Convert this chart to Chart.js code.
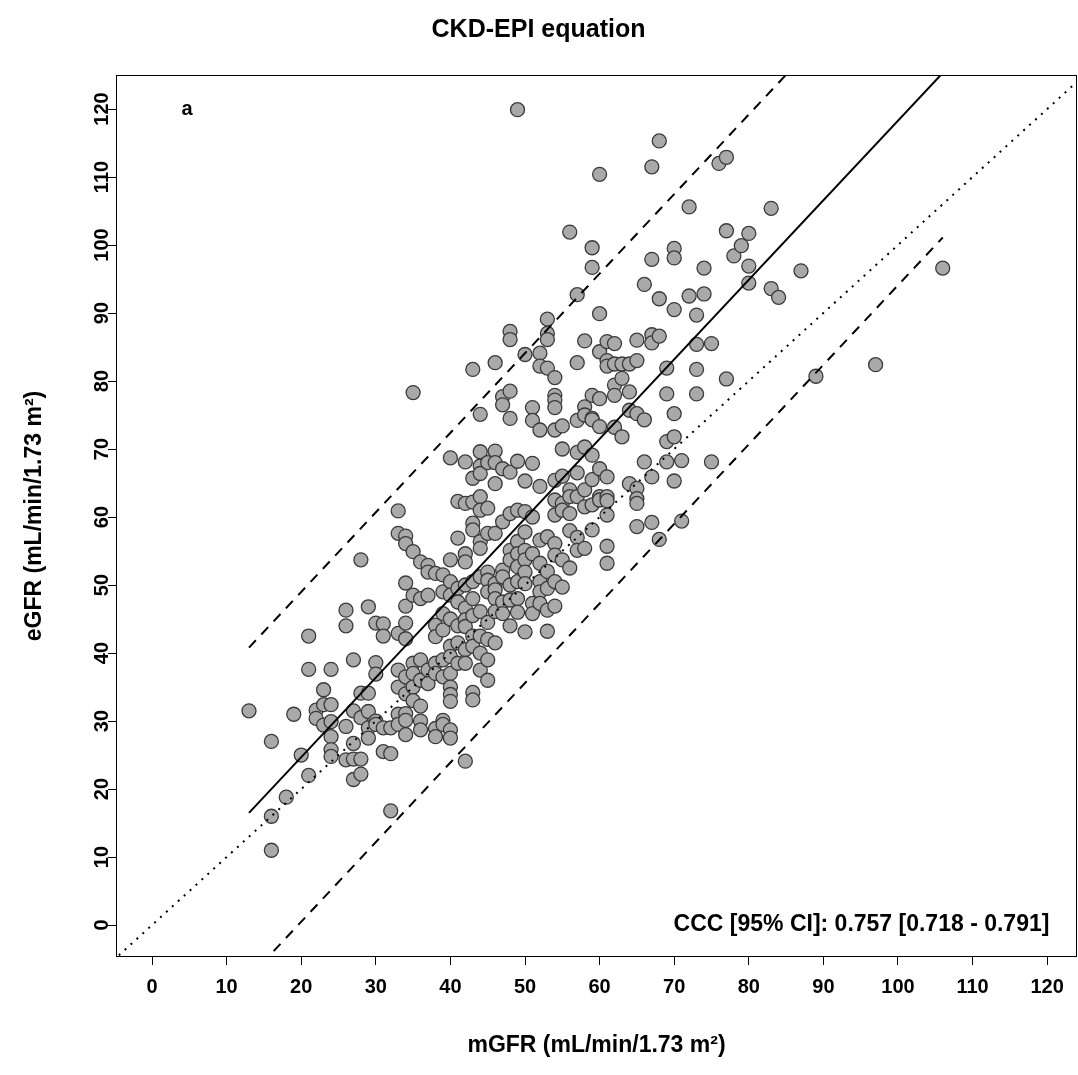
<!DOCTYPE html>
<html><head><meta charset="utf-8">
<script src="https://cdn.jsdelivr.net/npm/chart.js@4/dist/chart.umd.min.js"></script>
<style>html,body{margin:0;padding:0;background:#fff;}canvas{display:block;}</style>
</head><body>
<canvas id="c" width="1078" height="1075"></canvas>
<script>
// ---- data ----
const chartTitle = 'CKD-EPI equation';
const xTitle = 'mGFR (mL/min/1.73 m²)';
const yTitle = 'eGFR (mL/min/1.73 m²)';
const xTicks = [0,10,20,30,40,50,60,70,80,90,100,110,120];
const yTicks = [0,10,20,30,40,50,60,70,80,90,100,110,120];
const panelLabel = 'a';
const panelLabelPos = [4.7, 120];
const cccText = 'CCC [95% CI]: 0.757 [0.718 - 0.791]';
const cccPos = [120.3, 0];

const mGFRLevels = [13,16,18,19,20,21,22,23,24,26,27,28,29,30,31,32,33,34,35,36,37,38,39,40,41,42,43,44,45,46,47,48,49,50,51,52,53,54,55,56,57,58,59,60,61,62,63,64,65,66,67,68,69,70,71,72,73,74,75,76,77,78,79,80,83,84,87,89,97,106];
const eGFRByLevel = [
[31.5],
[27,16,11],
[18.8],
[31],
[25],
[42.5,37.6,22],
[31.6,30.4],
[34.6,32.4,29.4],
[37.6,32.4,29.9,27.7,25.8,24.8],
[46.3,44,29.2,24.3],
[39,31.5,26.7,24.4,21.4],
[53.7,34.1,30.5,24.4,22.2],
[46.8,34.1,31.4,29,27.5],
[44.4,38.6,36.9,30,29.5],
[44.3,42.5,29,25.5],
[29,25.2,16.8],
[60.9,57.6,42.9,37.5,35,31,29.5],
[57.2,56.1,50.3,46.9,44.4,42.1,36.5,34,31.1,30.1,28],
[78.3,54.9,48.5,38.5,37,35,33],
[53.4,48,39,36,32.2,30,28.7],
[52.9,51.9,48.5,37.5,35.5],
[51.7,44.1,42.4,38.5,37,28.9,27.7],
[51.5,49,45.8,43.4,39,36.5,30.1,29.5],
[68.7,53.7,50.5,48.5,45,41,39.5,37,35,33.9,32.9,28.7,27.5],
[62.3,56.9,49.5,47.5,44,41.5,38.5],
[68.1,62,54.6,53.4,50,46.6,44.9,43.9,40.5,38.5,24.1],
[81.7,65.7,62.2,59.1,58.1,50.5,48,45.5,42.5,41,34.2,33.1],
[75.1,69.6,67.5,66.4,63,61,56.4,55.4,51.2,46.1,42.5,40,37.5],
[68,61.3,57.6,51.9,50.7,49,44.5,42,39,36],
[82.7,69.7,68,64.9,57.6,50.2,49.3,48,46.1,41.5],
[77.7,76.5,67.1,59.3,52.2,51.2,47.5,45.8],
[87.3,86.1,78.5,74.5,66.6,60.5,55.1,53.7,50,47.8,44],
[119.9,68.2,61,56.4,54.6,52.7,50.5,48,46],
[83.9,65.3,60.8,57.8,55.1,53.7,51.9,50.2,43.1],
[76.1,74.2,67.9,60,54.6,47.3,45.8],
[84.1,82.2,72.8,64.5,56.6,53.2,50.5,49,47.3],
[89.1,87,86.1,81.9,57.1,52,49.5,46.3,43.2],
[80.5,77.9,77.2,76.1,72.8,65.4,62.5,60.3,56.1,54.4,50.5,46.9],
[73.4,70,66,62,61,53.7,49.7],
[101.9,64,63,60.5,58,52.5],
[92.7,82.7,74.2,69.5,66.5,63,57,55.1],
[85.9,76.2,75,70.3,64,61.5,55.4],
[99.6,96.7,77.9,74.5,74.3,69.1,65.5,61.8,58.1],
[110.4,89.9,84.3,77.4,73.3,67.1,63,62.5],
[85.8,83,82.2,65.9,63,62.4,60.3,55.7,53.2],
[85.5,82.5,79.4,77.9,73.2],
[82.5,80.4,71.8],
[82.5,78.4,75.7,64.9],
[86,83,75.2,64.2,62.7,62,58.6],
[94.2,74.3,68.1],
[111.5,97.9,86.8,85.6,65.9,59.2],
[115.3,92.1,86.6,56.7],
[81.9,78.1,71.1,68.1],
[99.5,98.1,90.5,75.2,71.8,65.3],
[68.3,59.4],
[105.6,92.5],
[89.7,85.4,81.7,78.1],
[96.6,92.8],
[85.5,68.1],
[112],
[112.9,102.1,80.3],
[98.4],
[99.9],
[101.7,96.9,94.4],
[105.4,93.6],
[92.3],
[96.2],
[80.7],
[82.4],
[96.6]
];

// line end points
const fitX = [13, 106];
const fitY = [16.5, 125.3];
const upperY = [40.8, 149.6];
const lowerY = [-7.7, 101.1];
const identityXY = [-10, 130];

// ---- build datasets ----
const points = [];
mGFRLevels.forEach((m, i) => eGFRByLevel[i].forEach(e => points.push({x: m, y: e})));
const toPts = (xs, ys) => xs.map((v, i) => ({x: v, y: ys[i]}));

const FONT = '"Liberation Sans", Arial, Helvetica, sans-serif';

const decor = {
  id: 'decor',
  afterDraw(chart) {
    const {ctx, chartArea: a, scales: {x, y}} = chart;
    ctx.save();
    ctx.strokeStyle = '#000';
    ctx.lineWidth = 1;
    ctx.strokeRect(Math.round(a.left) + 0.5, Math.round(a.top) + 0.5,
                   Math.round(a.right - a.left) - 1, Math.round(a.bottom - a.top) - 1);
    ctx.fillStyle = '#000';
    ctx.textBaseline = 'middle';
    ctx.textAlign = 'center';
    ctx.font = 'bold 20px ' + FONT;
    ctx.fillText(panelLabel, x.getPixelForValue(panelLabelPos[0]), y.getPixelForValue(panelLabelPos[1]));
    ctx.textAlign = 'right';
    ctx.font = 'bold 23px ' + FONT;
    ctx.fillText(cccText, x.getPixelForValue(cccPos[0]), y.getPixelForValue(cccPos[1]));
    ctx.restore();
  }
};

new Chart(document.getElementById('c'), {
  type: 'scatter',
  data: {
    datasets: [
      {data: toPts(identityXY, identityXY), showLine: true, pointRadius: 0, borderColor: '#000', borderWidth: 2, borderDash: [2, 6], order: 0},
      {data: toPts(fitX, fitY), showLine: true, pointRadius: 0, borderColor: '#000', borderWidth: 2, order: 0},
      {data: toPts(fitX, upperY), showLine: true, pointRadius: 0, borderColor: '#000', borderWidth: 2, borderDash: [10, 8], order: 0},
      {data: toPts(fitX, lowerY), showLine: true, pointRadius: 0, borderColor: '#000', borderWidth: 2, borderDash: [10, 8], order: 0},
      {data: points, pointRadius: 7, pointBackgroundColor: '#a9a9a9', pointBorderColor: '#3a3a3a', pointBorderWidth: 1.3, order: 1}
    ]
  },
  options: {
    responsive: false,
    animation: false,
    devicePixelRatio: 1,
    layout: {autoPadding: false, padding: {left: 0, right: 1, top: 0, bottom: 0}},
    plugins: {
      legend: {display: false},
      tooltip: {enabled: false},
      title: {display: true, text: chartTitle, color: '#000',
              font: {family: FONT, size: 25, weight: 'bold', lineHeight: 1.2},
              padding: {top: 15, bottom: 30}}
    },
    scales: {
      x: {
        type: 'linear', min: -4.83, max: 124.0,
        afterBuildTicks: s => { s.ticks = xTicks.map(v => ({value: v})); },
        afterFit: s => { s.height = 118; s.paddingLeft = 0; s.paddingRight = 0; },
        grid: {drawOnChartArea: false, drawTicks: true, tickLength: 8, color: '#000', lineWidth: 1},
        border: {display: false},
        ticks: {color: '#000', font: {family: FONT, size: 20, weight: 'bold'}, padding: 10, maxRotation: 0, autoSkip: false, callback: v => String(v)},
        title: {display: true, text: xTitle, color: '#000', font: {family: FONT, size: 23, weight: 'bold', lineHeight: 1.2}, padding: {top: 0, bottom: 16}}
      },
      y: {
        type: 'linear', min: -4.7, max: 125.0,
        afterBuildTicks: s => { s.ticks = yTicks.map(v => ({value: v})); },
        afterFit: s => { s.width = 116; s.paddingTop = 0; s.paddingBottom = 0; },
        grid: {drawOnChartArea: false, drawTicks: true, tickLength: 8, color: '#000', lineWidth: 1},
        border: {display: false},
        ticks: {color: '#000', font: {family: FONT, size: 20, weight: 'bold'}, padding: -11, minRotation: 90, maxRotation: 90, crossAlign: 'center', autoSkip: false, callback: v => String(v)},
        title: {display: true, text: yTitle, color: '#000', font: {family: FONT, size: 23, weight: 'bold', lineHeight: 1.2}, padding: {top: 21, bottom: 0}}
      }
    }
  },
  plugins: [decor]
});
</script>
</body></html>
